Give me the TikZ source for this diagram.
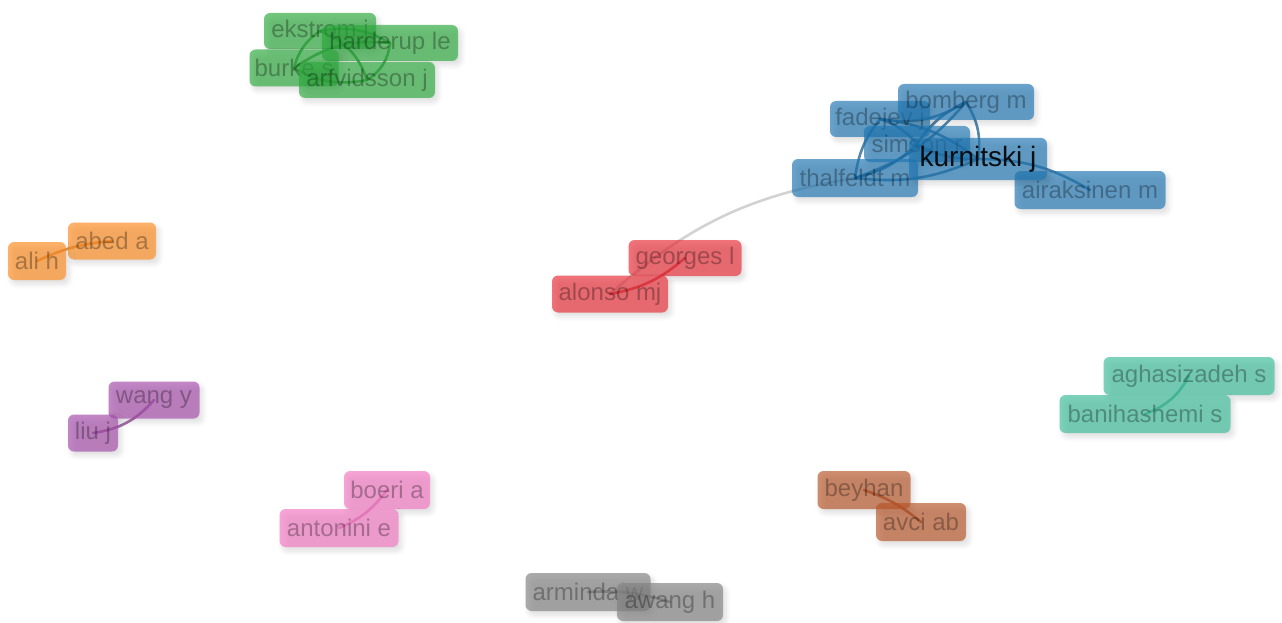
\documentclass[tikz,border=0pt]{standalone}
\usepackage{fontspec}
\setmainfont{Liberation Sans}
\usetikzlibrary{shadows.blur}

% cluster colours
\definecolor{cgreen}{RGB}{44,170,60}
\definecolor{cblue}{RGB}{31,119,180}
\definecolor{cred}{RGB}{235,45,55}
\definecolor{corange}{RGB}{255,140,30}
\definecolor{cpurple}{RGB}{165,75,170}
\definecolor{cteal}{RGB}{60,190,155}
\definecolor{cpink}{RGB}{245,120,195}
\definecolor{cbrown}{RGB}{185,85,40}
\definecolor{cgrey}{RGB}{130,130,130}
\definecolor{linkgrey}{RGB}{195,195,195}

\tikzset{
  lab/.style={rounded corners=6pt, fill=#1, fill opacity=0.66,
    text=black, text opacity=0.3, inner sep=0pt,
    font=\fontsize{24}{24}\selectfont,
    blur shadow={shadow xshift=3pt, shadow yshift=-4pt, shadow blur steps=8,
      shadow blur radius=5pt, shadow opacity=20}},
  big/.style={font=\fontsize{28}{28}\selectfont, text opacity=0.9},
  link/.style={draw=#1, line width=2.6pt, draw opacity=0.75, line cap=round},
}

\begin{document}
\begin{tikzpicture}[x=1pt,y=-1pt]
\useasboundingbox (0,0) rectangle (1282,623);

% ---- node anchors (centres), used for links drawn below the labels
\coordinate (pEk) at (320,31);
\coordinate (pHa) at (390,43);
\coordinate (pBu) at (294,68);
\coordinate (pAr) at (367,80);
\coordinate (pBo) at (966,102);
\coordinate (pFa) at (880,119);
\coordinate (pSi) at (917,144);
\coordinate (pKu) at (978,159);
\coordinate (pTh) at (855,178);
\coordinate (pAi) at (1090,190);
\coordinate (pGe) at (685,258);
\coordinate (pAl) at (610,294);
\coordinate (pAb) at (112,241);
\coordinate (pAli) at (37,261);
\coordinate (pWa) at (154,400);
\coordinate (pLi) at (93,433);
\coordinate (pAg) at (1189,376);
\coordinate (pBa) at (1145,414);
\coordinate (pBe) at (864,490);
\coordinate (pAv) at (921,522);
\coordinate (pBoe) at (387,490);
\coordinate (pAn) at (339,528);
\coordinate (pAm) at (588,592);
\coordinate (pAw) at (670,602);

% ---- links
\draw[link=linkgrey] (pTh) to[bend right=16] (pAl);

\draw[link=cgreen!80!black] (pEk) to[bend left=20] (pHa);
\draw[link=cgreen!80!black] (pEk) to[bend left=25] (pAr);
\draw[link=cgreen!80!black] (pEk) to[bend right=20] (pBu);
\draw[link=cgreen!80!black] (pHa) to[bend left=25] (pAr);
\draw[link=cgreen!80!black] (pHa) to[bend right=20] (pBu);
\draw[link=cgreen!80!black] (pBu) to[bend right=20] (pAr);

\draw[link=cblue!80!black] (pKu) to[bend right=20] (pBo);
\draw[link=cblue!80!black] (pKu) to[bend left=15] (pSi);
\draw[link=cblue!80!black] (pKu) to[bend left=15] (pTh);
\draw[link=cblue!80!black] (pKu) to[bend left=15] (pAi);
\draw[link=cblue!80!black] (pKu) to[bend right=15] (pFa);
\draw[link=cblue!80!black] (pBo) to[bend left=20] (pFa);
\draw[link=cblue!80!black] (pBo) to[bend right=15] (pSi);
\draw[link=cblue!80!black] (pBo) to[bend left=15] (pTh);
\draw[link=cblue!80!black] (pFa) to[bend left=15] (pSi);
\draw[link=cblue!80!black] (pFa) to[bend right=15] (pTh);
\draw[link=cblue!80!black] (pSi) to[bend left=15] (pTh);

\draw[link=cred!85!black] (pGe) to[bend left=15] (pAl);
\draw[link=corange!85!black] (pAb) to[bend right=10] (pAli);
\draw[link=cpurple!85!black] (pWa) to[bend left=20] (pLi);
\draw[link=cteal!85!black] (pAg) to[bend left=20] (pBa);
\draw[link=cpink!85!black] (pBoe) to[bend left=15] (pAn);
\draw[link=cbrown!85!black] (pBe) to[bend left=10] (pAv);
\draw[link=cgrey!85!black] (pAm) to[bend left=10] (pAw);

% ---- labels: green cluster
\node[lab=cgreen, minimum width=112pt, minimum height=36pt] (ekstrom) at (pEk) {ekstrom j};
\node[lab=cgreen, minimum width=136pt, minimum height=36pt] (harderup) at (pHa) {harderup le};
\node[lab=cgreen, minimum width=89pt, minimum height=37pt] (burke) at (pBu) {burke s};
\node[lab=cgreen, minimum width=136pt, minimum height=36pt] (arfvidsson) at (pAr) {arfvidsson j};

% ---- blue cluster
\node[lab=cblue, minimum width=100pt, minimum height=36pt] (fadejev) at (pFa) {fadejev j};
\node[lab=cblue, minimum width=136pt, minimum height=36pt] (bomberg) at (pBo) {bomberg m};
\node[lab=cblue, minimum width=106pt, minimum height=36pt] (simson) at (pSi) {simson r};
\node[lab=cblue, minimum width=126pt, minimum height=38pt] (thalfeldt) at (pTh) {thalfeldt m};
\node[lab=cblue, minimum width=151pt, minimum height=38pt] (airaksinen) at (pAi) {airaksinen m};
\node[lab=cblue, big, minimum width=138pt, minimum height=42pt] (kurnitski) at (pKu) {kurnitski j};

% ---- red cluster
\node[lab=cred, minimum width=113pt, minimum height=36pt] (georges) at (pGe) {georges l};
\node[lab=cred, minimum width=116pt, minimum height=37pt] (alonso) at (pAl) {alonso mj};

% ---- orange cluster
\node[lab=corange, minimum width=88pt, minimum height=37pt] (abed) at (pAb) {abed a};
\node[lab=corange, minimum width=58pt, minimum height=38pt] (ali) at (pAli) {ali h};

% ---- purple cluster
\node[lab=cpurple, minimum width=91pt, minimum height=37pt] (wang) at (pWa) {wang y};
\node[lab=cpurple, minimum width=50pt, minimum height=37pt] (liu) at (pLi) {liu j};

% ---- teal cluster
\node[lab=cteal, minimum width=171pt, minimum height=38pt] (aghasizadeh) at (pAg) {aghasizadeh s};
\node[lab=cteal, minimum width=171pt, minimum height=38pt] (banihashemi) at (pBa) {banihashemi s};

% ---- pink cluster
\node[lab=cpink, minimum width=86pt, minimum height=38pt] (boeri) at (pBoe) {boeri a};
\node[lab=cpink, minimum width=119pt, minimum height=38pt] (antonini) at (pAn) {antonini e};

% ---- brown cluster
\node[lab=cbrown, minimum width=93pt, minimum height=38pt] (beyhan) at (pBe) {beyhan};
\node[lab=cbrown, minimum width=90pt, minimum height=38pt] (avci) at (pAv) {avci ab};

% ---- grey cluster
\node[lab=cgrey, minimum width=125pt, minimum height=38pt] (arminda) at (pAm) {arminda w};
\node[lab=cgrey, minimum width=106pt, minimum height=38pt] (awang) at (pAw) {awang h};
\end{tikzpicture}
\end{document}
